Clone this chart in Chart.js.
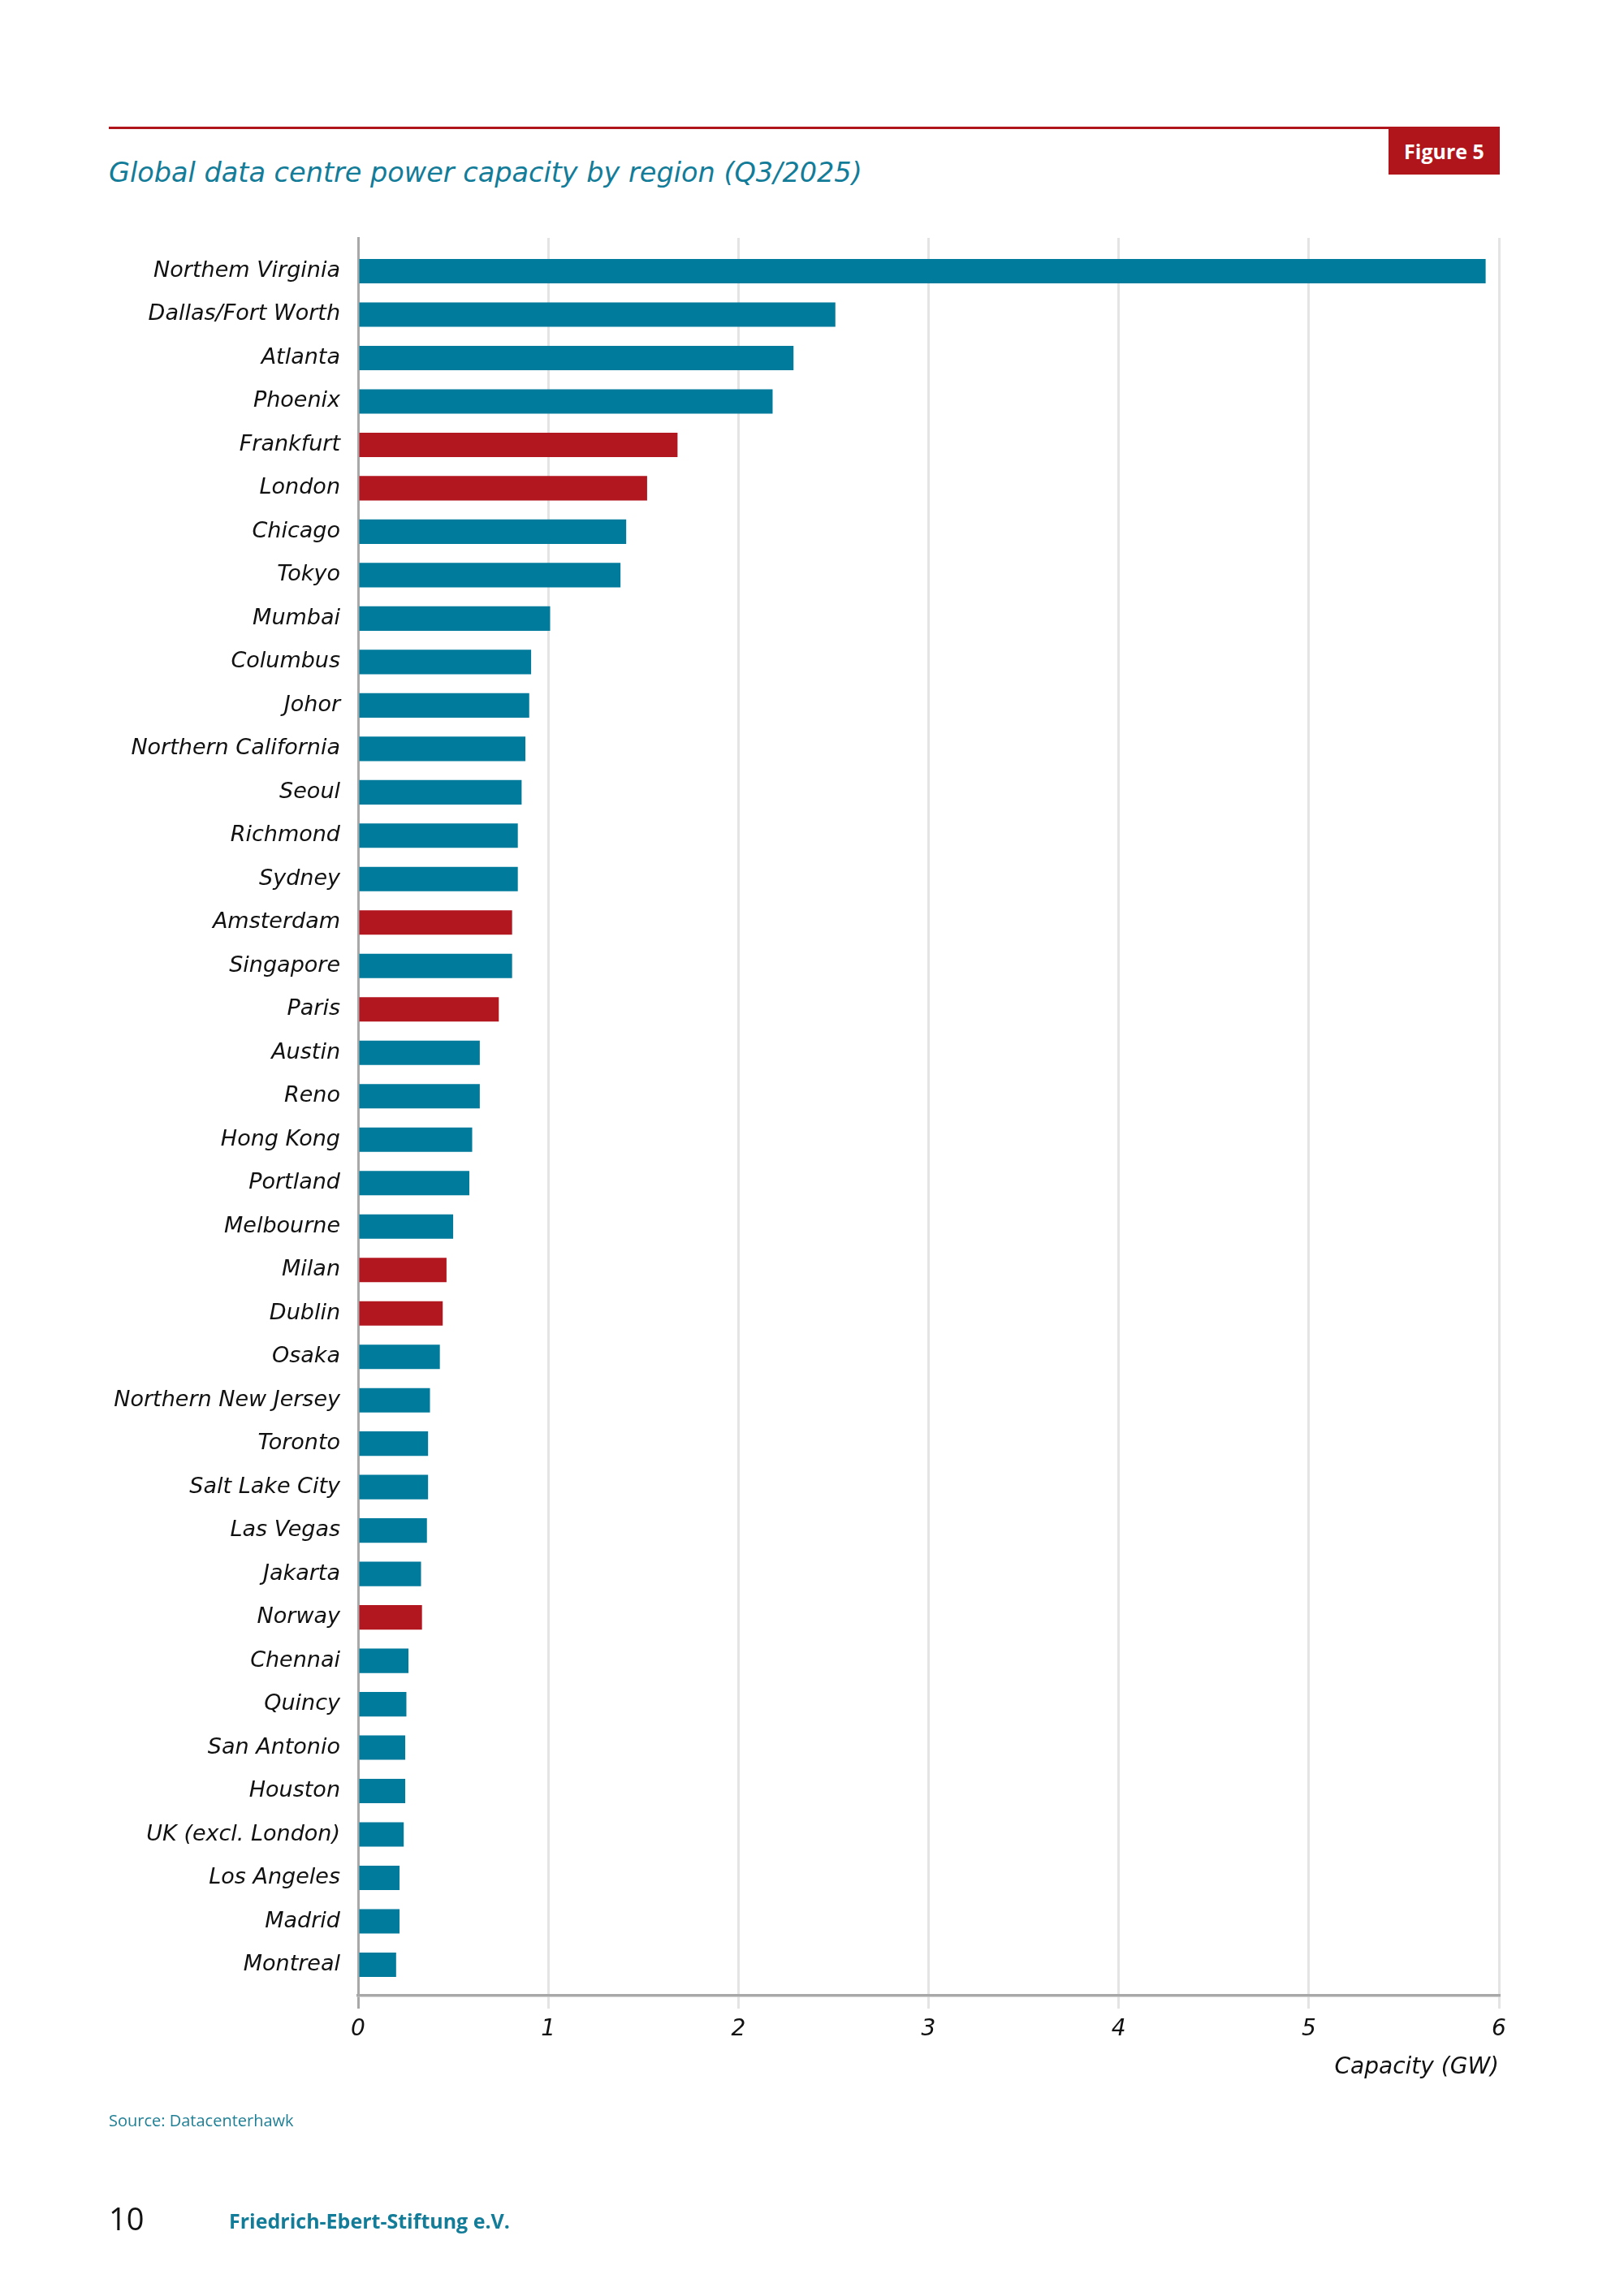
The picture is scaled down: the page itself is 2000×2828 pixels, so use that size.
<!DOCTYPE html>
<html>
<head>
<meta charset="utf-8">
<script src="https://cdn.jsdelivr.net/npm/chart.js@4.4.1/dist/chart.umd.min.js"></script>
<style>
  html, body { margin: 0; padding: 0; background: #ffffff; }
  body { width: 2000px; height: 2828px; position: relative; overflow: hidden; }
  .abs { position: absolute; white-space: nowrap; }
  #rule { left: 134px; top: 156px; width: 1576px; height: 2.5px; background: #b1151c; }
  #figbox { left: 1710px; top: 156px; width: 137px; height: 59px; background: #b1151c; color: #ffffff;
            font-family: "Open Sans", sans-serif; font-weight: 700; font-size: 25px;
            display: flex; align-items: center; justify-content: center; }
  #title { left: 134px; top: 196px; font-family: "DejaVu Sans", sans-serif; font-style: italic;
           font-size: 33.5px; line-height: 33.5px; color: #137c98; }
  #source { left: 134px; top: 2602px; font-family: "Open Sans", sans-serif; font-size: 20px; line-height: 20px; color: #1f7f95; }
  #pagenum { left: 134px; top: 2713px; font-family: "Open Sans", sans-serif; font-size: 38px; line-height: 38px; color: #111111; }
  #publisher { left: 282px; top: 2723px; font-family: "Open Sans", sans-serif; font-weight: 700; font-size: 25px; line-height: 25px; color: #137c98; }
  #chartwrap { position: absolute; left: 0; top: 0; width: 2000px; height: 2828px; }
</style>
</head>
<body>
<div id="rule" class="abs"></div>
<div id="figbox" class="abs">Figure 5</div>
<div id="title" class="abs">Global data centre power capacity by region (Q3/2025)</div>
<div id="chartwrap"><canvas id="c"></canvas></div>
<div id="source" class="abs">Source: Datacenterhawk</div>
<div id="pagenum" class="abs">10</div>
<div id="publisher" class="abs">Friedrich-Ebert-Stiftung e.V.</div>
<script>
// ---- data ----
const categories = [
  "Northem Virginia", "Dallas/Fort Worth", "Atlanta", "Phoenix", "Frankfurt", "London",
  "Chicago", "Tokyo", "Mumbai", "Columbus", "Johor", "Northern California", "Seoul",
  "Richmond", "Sydney", "Amsterdam", "Singapore", "Paris", "Austin", "Reno", "Hong Kong",
  "Portland", "Melbourne", "Milan", "Dublin", "Osaka", "Northern New Jersey", "Toronto",
  "Salt Lake City", "Las Vegas", "Jakarta", "Norway", "Chennai", "Quincy", "San Antonio",
  "Houston", "UK (excl. London)", "Los Angeles", "Madrid", "Montreal"
];
const capacityGW = [
  5.93, 2.51, 2.29, 2.18, 1.68, 1.52,
  1.41, 1.38, 1.01, 0.91, 0.90, 0.88, 0.86,
  0.84, 0.84, 0.81, 0.81, 0.74, 0.64, 0.64, 0.60,
  0.585, 0.50, 0.465, 0.445, 0.43, 0.378, 0.368,
  0.368, 0.362, 0.331, 0.336, 0.265, 0.254, 0.248,
  0.248, 0.24, 0.218, 0.218, 0.20
];
const europeanRegions = ["Frankfurt", "London", "Amsterdam", "Paris", "Milan", "Dublin", "Norway"];
const xTickValues = [0, 1, 2, 3, 4, 5, 6];
const xAxisTitle = "Capacity (GW)";

// ---- styles ----
const TEAL = "#007b9c";
const RED = "#b2161f";
const AXIS_GREY = "#a8a8a8";
const GRID_GREY = "#e4e4e4";
const labelFont = { family: "DejaVu Sans", style: "italic", size: 27 };

// index-axis range (category rows sit at integer positions)
const Y_MIN = -0.766, Y_MAX = 39.71;

const points = capacityGW.map((v, i) => ({ x: v, y: i }));
const colors = categories.map(c => europeanRegions.includes(c) ? RED : TEAL);

new Chart(document.getElementById("c"), {
  type: "bar",
  data: {
    datasets: [{
      data: points,
      backgroundColor: colors,
      borderWidth: 0,
      barPercentage: 0.75,
      categoryPercentage: 0.75
    }]
  },
  options: {
    indexAxis: "y",
    responsive: true,
    maintainAspectRatio: false,
    animation: false,
    devicePixelRatio: 1,
    layout: { padding: { top: 293, right: 154, bottom: 250, left: 0 } },
    plugins: { legend: { display: false }, tooltip: { enabled: false }, title: { display: false } },
    scales: {
      x: {
        type: "linear",
        position: "bottom",
        offset: false,
        min: xTickValues[0],
        max: xTickValues[xTickValues.length - 1],
        afterBuildTicks: s => { s.ticks = xTickValues.map(v => ({ value: v })); },
        ticks: { color: "#111111", font: { family: "DejaVu Sans", style: "italic", size: 28 }, padding: 9, maxRotation: 0 },
        grid: {
          offset: false,
          color: ctx => (ctx.tick && ctx.tick.value === 0) ? AXIS_GREY : GRID_GREY,
          tickColor: ctx => (ctx.tick && ctx.tick.value === 0) ? AXIS_GREY : GRID_GREY,
          lineWidth: 3,
          tickLength: 16
        },
        border: { display: true, color: AXIS_GREY, width: 3.5 },
        title: {
          display: true, text: xAxisTitle, align: "end", color: "#111111",
          font: { family: "DejaVu Sans", style: "italic", size: 28 },
          padding: { top: 4, bottom: 14 }
        },
        afterFit: s => { s.height = 120; }
      },
      y: {
        type: "linear",
        reverse: true,
        offset: false,
        bounds: "data",
        min: Y_MIN,
        max: Y_MAX,
        afterDataLimits: s => { s.min = Y_MIN; s.max = Y_MAX; },
        afterBuildTicks: s => {
          s.min = Y_MIN; s.max = Y_MAX;
          s.ticks = categories.map((_, i) => ({ value: i }));
        },
        ticks: {
          autoSkip: false,
          callback: v => categories[v] !== undefined ? categories[v] : "",
          color: "#111111", font: labelFont, padding: 22
        },
        grid: { offset: false, drawOnChartArea: false, drawTicks: false },
        border: { display: true, color: AXIS_GREY, width: 3 },
        afterFit: s => { s.width = 441; }
      }
    }
  }
});
</script>
</body>
</html>
